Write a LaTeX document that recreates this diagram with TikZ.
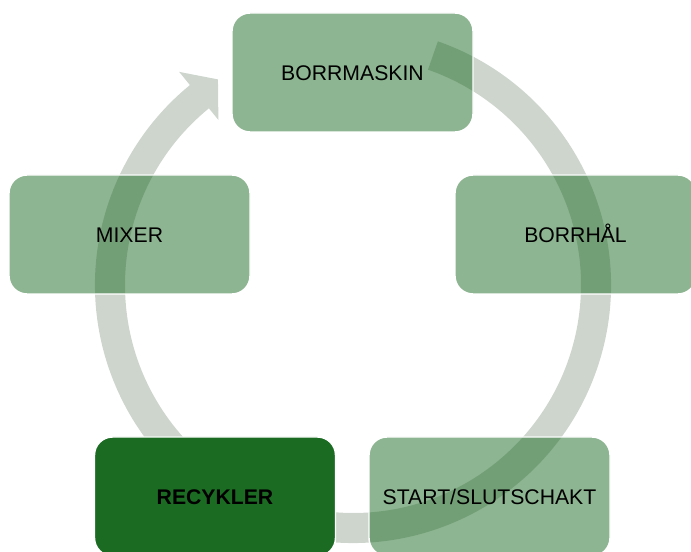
\documentclass[tikz,border=0pt]{standalone}
\usepackage{fontspec}
\setmainfont{Liberation Sans}
\definecolor{boxgreen}{HTML}{1B6B23}
\definecolor{ringgray}{HTML}{CDD5CD}
\begin{document}
\begin{tikzpicture}[x=0.75pt,y=0.75pt,
  cyclebox/.style={rectangle, rounded corners=13.5pt, minimum width=180.75pt, minimum height=89.25pt,
    fill=boxgreen, fill opacity=0.5, text opacity=1, draw=white, line width=1.1pt,
    font=\fontsize{15.9}{19}\selectfont, text=black, inner sep=0pt,
    text height=11.4pt, text depth=0pt},
  keybox/.style={cyclebox, fill opacity=1, font=\fontsize{15.9}{19}\selectfont\bfseries}]
\useasboundingbox (0,0) rectangle (691,552);
% circular arrow behind the boxes
\begin{scope}[shift={(353,267)}]
  \coordinate (tip) at (123.3:246);
  \fill[ringgray] (70.8:258) arc[start angle=70.8, end angle=-230.8, radius=258]
    -- (-230.8:275) -- (tip) -- (-230.8:213) -- (-230.8:228)
    arc[start angle=-230.8, end angle=70.8, radius=228] -- cycle;
\end{scope}
\node[cyclebox] (borrmaskin) at (352.5,479.5) {BORRMASKIN};
\node[cyclebox] (borrhal) at (575.5,317.5) {BORRHÅL};
\node[cyclebox] (start) at (489.5,55.5) {START/SLUTSCHAKT};
\node[keybox] (recykler) at (215,55.5) {RECYKLER};
\node[cyclebox] (mixer) at (129.5,317.5) {MIXER};
\end{tikzpicture}
\end{document}
